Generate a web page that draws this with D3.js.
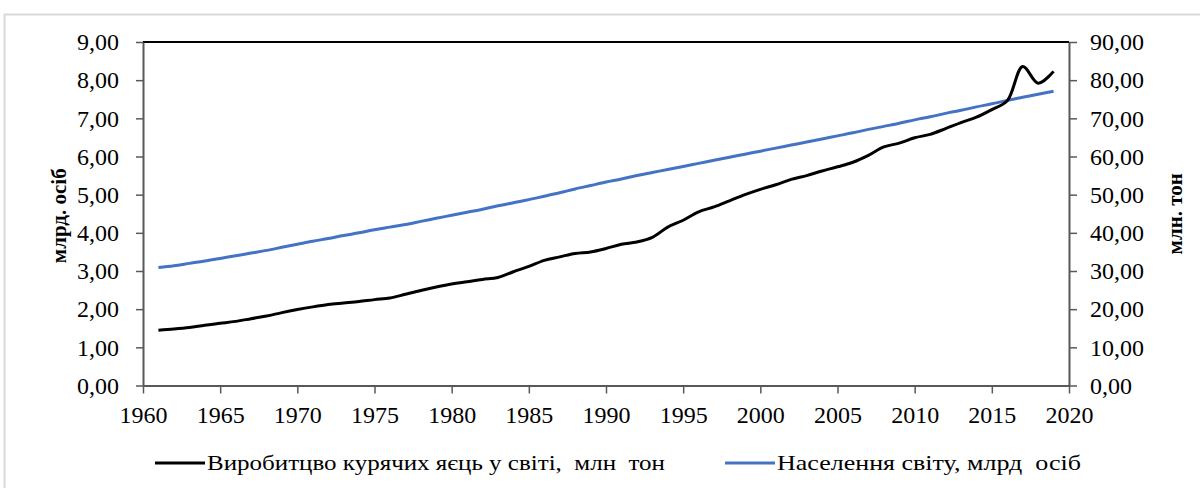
<!DOCTYPE html>
<html lang="uk">
<head>
  <meta charset="UTF-8">
  <title>Виробництво яєць і населення світу</title>
  <script src="https://d3js.org/d3.v7.min.js"></script>
  <style>
    body { margin: 0; background: #fff; }
    svg text { font-family: "Liberation Serif", "Times New Roman", serif; fill: #000; }
    .tick text { font-size: 24px; }
  </style>
</head>
<body>
  <svg width="1200" height="488"></svg>
  <script>
    const years = d3.range(1961, 2020);

    // виробництво яєць, млн тон (права вісь)
    const eggs = [14.5, 14.8, 15.2, 15.8, 16.3, 16.8, 17.5, 18.2, 19.1, 19.9,
      20.6, 21.2, 21.6, 22.0, 22.5, 22.9, 23.9, 24.9, 25.8, 26.6,
      27.2, 27.8, 28.3, 29.8, 31.2, 32.8, 33.7, 34.6, 35.0, 35.9,
      37.0, 37.6, 38.8, 41.5, 43.3, 45.5, 46.8, 48.4, 50.0, 51.4,
      52.6, 54.0, 55.0, 56.2, 57.3, 58.5, 60.3, 62.5, 63.5, 64.9,
      65.8, 67.3, 68.9, 70.3, 72.3, 74.6, 83.6, 79.2, 82.3];

    // населення світу, млрд осіб (ліва вісь)
    const population = [3.09, 3.14, 3.20, 3.26, 3.33, 3.40, 3.47, 3.54, 3.62, 3.70,
      3.78, 3.85, 3.93, 4.00, 4.08, 4.15, 4.22, 4.30, 4.38, 4.46,
      4.54, 4.62, 4.71, 4.79, 4.87, 4.96, 5.05, 5.15, 5.24, 5.33,
      5.41, 5.50, 5.58, 5.66, 5.74, 5.82, 5.90, 5.98, 6.06, 6.14,
      6.22, 6.30, 6.38, 6.46, 6.54, 6.62, 6.71, 6.79, 6.87, 6.96,
      7.04, 7.13, 7.21, 7.30, 7.38, 7.47, 7.55, 7.63, 7.71];

    const xTicks = d3.range(1960, 2021, 5);
    const leftTicks = d3.range(0, 10, 1);
    const rightTicks = d3.range(0, 100, 10);

    const svg = d3.select("svg");
    const plotL = 143, plotR = 1069, plotT = 42, plotB = 385.5;

    const x = d3.scaleLinear().domain([1960, 2020]).range([plotL, plotR]);
    const yL = d3.scaleLinear().domain([0, 9]).range([plotB, plotT]);
    const yR = d3.scaleLinear().domain([0, 90]).range([plotB, plotT]);

    const fmt = d => d3.format(".2f")(d).replace(".", ",");

    // рамка діаграми
    svg.append("rect")
      .attr("x", 4.5).attr("y", 14.5)
      .attr("width", 1210).attr("height", 500)
      .attr("fill", "none")
      .attr("stroke", "#d9d9d9")
      .attr("stroke-width", 2);

    // межа області побудови
    svg.append("line")
      .attr("x1", plotL).attr("x2", plotR)
      .attr("y1", plotT).attr("y2", plotT)
      .attr("stroke", "#000").attr("stroke-width", 2);

    const styleAxis = g => {
      g.select(".domain").attr("stroke", "#595959").attr("stroke-width", 2);
      g.selectAll(".tick line").attr("stroke", "#595959").attr("stroke-width", 1.5);
      g.selectAll(".tick text").attr("font-family", null).attr("font-size", null);
    };

    svg.append("g")
      .attr("transform", `translate(0,${plotB})`)
      .call(d3.axisBottom(x).tickValues(xTicks).tickFormat(d3.format("d"))
        .tickSizeInner(8).tickSizeOuter(0).tickPadding(12))
      .call(styleAxis);

    svg.append("g")
      .attr("transform", `translate(${plotL},0)`)
      .call(d3.axisLeft(yL).tickValues(leftTicks).tickFormat(fmt)
        .tickSizeInner(7).tickSizeOuter(0).tickPadding(17))
      .call(styleAxis);

    svg.append("g")
      .attr("transform", `translate(${plotR},0)`)
      .call(d3.axisRight(yR).tickValues(rightTicks).tickFormat(fmt)
        .tickSizeInner(8).tickSizeOuter(0).tickPadding(13))
      .call(styleAxis);

    // назви осей
    svg.append("text")
      .attr("transform", `translate(66,${(plotT + plotB) / 2 + 2}) rotate(-90)`)
      .attr("text-anchor", "middle")
      .attr("font-size", 21).attr("font-weight", "bold")
      .text("млрд. осіб");

    svg.append("text")
      .attr("transform", `translate(1182,${(plotT + plotB) / 2}) rotate(-90)`)
      .attr("text-anchor", "middle")
      .attr("font-size", 21).attr("font-weight", "bold")
      .text("млн. тон");

    // лінії
    const popLine = d3.line()
      .x((d, i) => x(years[i]))
      .y(d => yL(d))
      .curve(d3.curveCatmullRom);

    const eggLine = d3.line()
      .x((d, i) => x(years[i]))
      .y(d => yR(d))
      .curve(d3.curveCatmullRom);

    svg.append("path")
      .datum(population)
      .attr("d", popLine)
      .attr("fill", "none")
      .attr("stroke", "#4472c4")
      .attr("stroke-width", 3);

    svg.append("path")
      .datum(eggs)
      .attr("d", eggLine)
      .attr("fill", "none")
      .attr("stroke", "#000")
      .attr("stroke-width", 3);

    // легенда
    const legend = [
      { label: "Виробитцво курячих яєць у світі,  млн  тон", color: "#000", x: 155, w: 458 },
      { label: "Населення світу, млрд  осіб", color: "#4472c4", x: 725, w: 304 }
    ];
    const lg = svg.append("g").selectAll("g").data(legend).join("g")
      .attr("transform", d => `translate(${d.x},463)`);
    lg.append("line")
      .attr("x1", 0).attr("x2", 50)
      .attr("stroke", d => d.color).attr("stroke-width", 3);
    lg.append("text")
      .attr("x", 52).attr("y", 7)
      .attr("font-size", 22)
      .attr("textLength", d => d.w)
      .attr("lengthAdjust", "spacingAndGlyphs")
      .style("white-space", "pre")
      .text(d => d.label);
  </script>
</body>
</html>
